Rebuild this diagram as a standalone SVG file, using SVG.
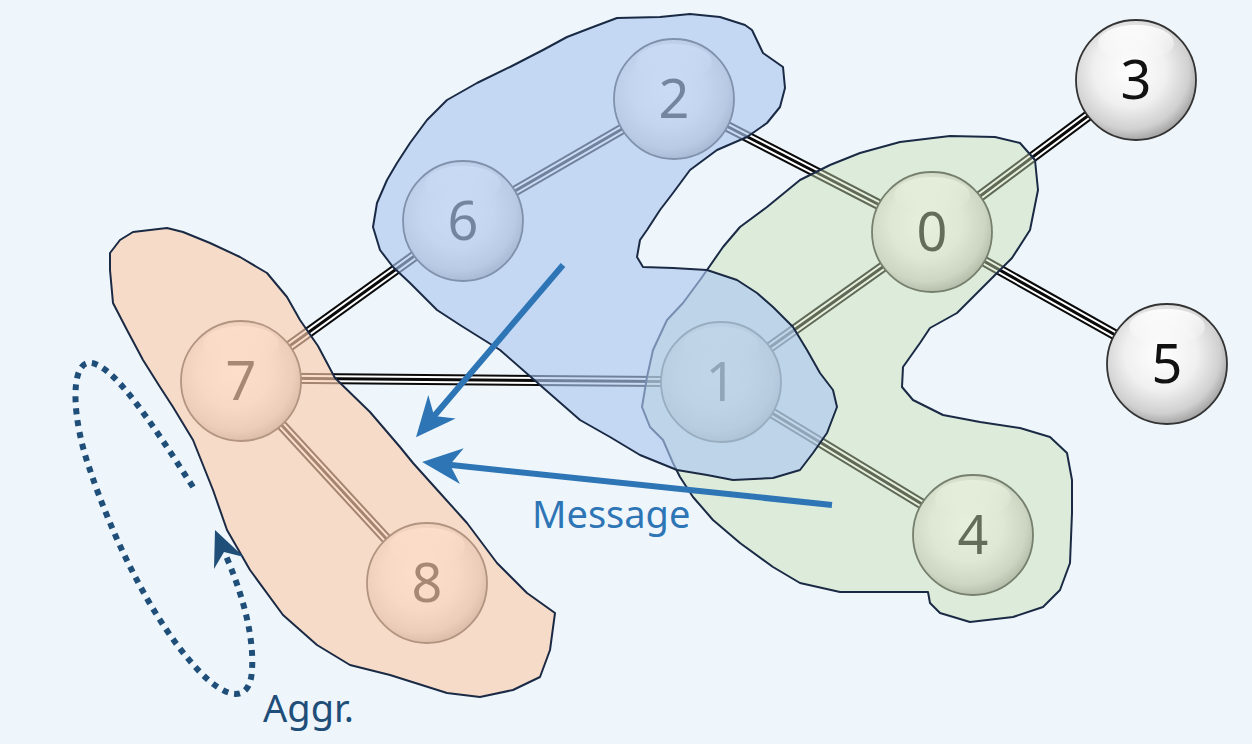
<svg xmlns="http://www.w3.org/2000/svg" width="1252" height="744" viewBox="0 0 1252 744">
<defs>
<style>
.edge-o{stroke:#0a0a0a;stroke-width:11;fill:none;stroke-linecap:butt}
.edge-i{stroke:#fff;stroke-width:7;fill:none}
.edge-c{stroke:#0a0a0a;stroke-width:3;fill:none}
.ball{fill:url(#ballg);stroke:#333;stroke-width:1.8}
.hl{fill:url(#hlg)}
.lbl{font-family:"Noto Sans","Open Sans","DejaVu Sans",sans-serif;font-size:54px;fill:#111;text-anchor:middle}
.region{stroke:#1b2a44;stroke-width:2;stroke-linejoin:round}
.msg{stroke:#2e75b6;stroke-width:6;fill:none;marker-end:url(#stealth)}
.cap{font-family:"Noto Sans","Open Sans","DejaVu Sans",sans-serif;font-size:38px}
</style>
<radialGradient id="ballg" cx="0.45" cy="0.42" r="0.6">
<stop offset="0" stop-color="#ffffff"/>
<stop offset="0.5" stop-color="#f0f0f0"/>
<stop offset="0.82" stop-color="#d0d0d0"/>
<stop offset="1" stop-color="#9e9e9e"/>
</radialGradient>
<linearGradient id="hlg" x1="0" y1="0" x2="0" y2="1">
<stop offset="0" stop-color="#ffffff" stop-opacity="0.9"/>
<stop offset="1" stop-color="#ffffff" stop-opacity="0"/>
</linearGradient>
<marker id="stealth" viewBox="0 0 40 40" refX="20" refY="20" markerWidth="40" markerHeight="40" markerUnits="userSpaceOnUse" orient="auto">
<path d="M0,2 L40,20 L0,38 L12,20 Z" fill="#2e75b6"/>
</marker>
</defs>
<rect width="1252" height="744" fill="#eef6fc"/>

<g id="connectors">
<g id="e-2-6"><line class="edge-o" x1="674" y1="99" x2="463" y2="221"/><line class="edge-i" x1="674" y1="99" x2="463" y2="221"/><line class="edge-c" x1="674" y1="99" x2="463" y2="221"/></g>
<g id="e-2-0"><line class="edge-o" x1="674" y1="99" x2="932" y2="232"/><line class="edge-i" x1="674" y1="99" x2="932" y2="232"/><line class="edge-c" x1="674" y1="99" x2="932" y2="232"/></g>
<g id="e-0-3"><line class="edge-o" x1="932" y1="232" x2="1136" y2="80"/><line class="edge-i" x1="932" y1="232" x2="1136" y2="80"/><line class="edge-c" x1="932" y1="232" x2="1136" y2="80"/></g>
<g id="e-0-5"><line class="edge-o" x1="932" y1="232" x2="1167" y2="364"/><line class="edge-i" x1="932" y1="232" x2="1167" y2="364"/><line class="edge-c" x1="932" y1="232" x2="1167" y2="364"/></g>
<g id="e-0-1"><line class="edge-o" x1="932" y1="232" x2="721" y2="382"/><line class="edge-i" x1="932" y1="232" x2="721" y2="382"/><line class="edge-c" x1="932" y1="232" x2="721" y2="382"/></g>
<g id="e-6-7"><line class="edge-o" x1="463" y1="221" x2="241" y2="381"/><line class="edge-i" x1="463" y1="221" x2="241" y2="381"/><line class="edge-c" x1="463" y1="221" x2="241" y2="381"/></g>
<g id="e-7-1"><line class="edge-o" x1="241" y1="378" x2="721" y2="382"/><line class="edge-i" x1="241" y1="378" x2="721" y2="382"/><line class="edge-c" x1="241" y1="378" x2="721" y2="382"/></g>
<g id="e-7-8"><line class="edge-o" x1="241" y1="381" x2="427" y2="583"/><line class="edge-i" x1="241" y1="381" x2="427" y2="583"/><line class="edge-c" x1="241" y1="381" x2="427" y2="583"/></g>
<g id="e-1-4"><line class="edge-o" x1="721" y1="382" x2="973" y2="535"/><line class="edge-i" x1="721" y1="382" x2="973" y2="535"/><line class="edge-c" x1="721" y1="382" x2="973" y2="535"/></g>
</g>

<g id="node-2"><circle class="ball" cx="674" cy="99" r="60"/><ellipse class="hl" cx="674" cy="62" rx="38" ry="18"/><text class="lbl" x="674" y="118">2</text></g>
<g id="node-6"><circle class="ball" cx="463" cy="221" r="60"/><ellipse class="hl" cx="463" cy="184" rx="38" ry="18"/><text class="lbl" x="463" y="240">6</text></g>
<g id="node-0"><circle class="ball" cx="932" cy="232" r="60"/><ellipse class="hl" cx="932" cy="195" rx="38" ry="18"/><text class="lbl" x="932" y="251">0</text></g>
<g id="node-3"><circle class="ball" cx="1136" cy="80" r="60"/><ellipse class="hl" cx="1136" cy="43" rx="38" ry="18"/><text class="lbl" x="1136" y="99">3</text></g>
<g id="node-5"><circle class="ball" cx="1167" cy="364" r="60"/><ellipse class="hl" cx="1167" cy="327" rx="38" ry="18"/><text class="lbl" x="1167" y="383">5</text></g>
<g id="node-7"><circle class="ball" cx="241" cy="381" r="60"/><ellipse class="hl" cx="241" cy="344" rx="38" ry="18"/><text class="lbl" x="241" y="400">7</text></g>
<g id="node-1"><circle class="ball" cx="721" cy="382" r="60"/><ellipse class="hl" cx="721" cy="345" rx="38" ry="18"/><text class="lbl" x="721" y="401">1</text></g>
<g id="node-4"><circle class="ball" cx="973" cy="535" r="60"/><ellipse class="hl" cx="973" cy="498" rx="38" ry="18"/><text class="lbl" x="973" y="554">4</text></g>
<g id="node-8"><circle class="ball" cx="427" cy="583" r="60"/><ellipse class="hl" cx="427" cy="546" rx="38" ry="18"/><text class="lbl" x="427" y="602">8</text></g>

<g id="regions">
<path id="region-green" class="region" fill="rgb(200,222,180)" fill-opacity="0.45" d="M860,153 L900,142 L950,136 L995,137 L1020,143 L1035,160 L1038,190 L1030,230 L1012,258 L990,280 L973,297 L957,313 L930,328 L920,343 L903,367 L902,387 L913,400 L943,415 L980,422 L1020,428 L1050,437 L1067,453 L1072,480 L1072,513 L1070,563 L1060,590 L1043,607 L1013,617 L970,622 L940,613 L930,603 L928,592 L880,592 L840,592 L800,583 L773,567 L740,543 L713,520 L693,497 L680,477 L673,463 L663,440 L650,427 L642,407 L647,377 L653,350 L667,320 L683,303 L700,280 L707,270 L723,247 L740,227 L767,207 L800,180 L830,165 Z"/>
<path id="region-blue" class="region" fill="rgb(172,198,239)" fill-opacity="0.64" d="M373,227 L377,203 L387,180 L397,163 L410,143 L427,120 L447,100 L477,83 L510,67 L543,50 L567,37 L593,27 L617,18 L660,17 L690,14 L720,17 L745,25 L752,30 L763,53 L783,67 L785,88 L780,107 L767,123 L747,137 L717,150 L690,170 L673,193 L660,210 L647,230 L640,240 L637,257 L643,267 L673,268 L707,270 L737,280 L757,293 L773,307 L793,327 L807,350 L820,373 L833,390 L837,407 L827,433 L813,453 L800,470 L773,478 L733,480 L707,475 L677,470 L640,455 L610,437 L580,420 L540,385 L500,350 L460,325 L437,310 L410,283 L393,267 L380,250 Z"/>
<path id="region-orange" class="region" fill="rgb(250,203,172)" fill-opacity="0.64" d="M110,253 L120,240 L133,232 L167,228 L183,232 L210,243 L240,257 L267,273 L287,297 L300,320 L318,346 L335,378 L370,412 L400,447 L413,463 L440,493 L467,523 L497,563 L527,593 L555,613 L550,650 L540,677 L513,690 L480,697 L447,693 L390,675 L350,665 L317,645 L283,615 L250,570 L227,530 L213,490 L193,440 L173,407 L160,387 L143,360 L127,330 L113,303 L110,270 Z"/>
</g>

<g id="messages">
<line class="msg" x1="563" y1="265" x2="429" y2="422"/>
<line class="msg" x1="832" y1="505" x2="442" y2="464"/>
<text class="cap" x="532" y="528" fill="#2e75b6">Message</text>
</g>

<g id="aggregation">
<path d="M193,487 C150,420 110,360 88,363 C70,366 72,420 90,470 C110,530 150,620 200,672 C225,698 250,705 252,670 C254,640 245,600 226,556" fill="none" stroke="#1f4e79" stroke-width="6" stroke-dasharray="6 6"/>
<polygon points="215,530 244,557 224,552 214,569" fill="#1f4e79"/>
<text class="cap" x="263" y="722" fill="#1f4e79">Aggr.</text>
</g>
</svg>
